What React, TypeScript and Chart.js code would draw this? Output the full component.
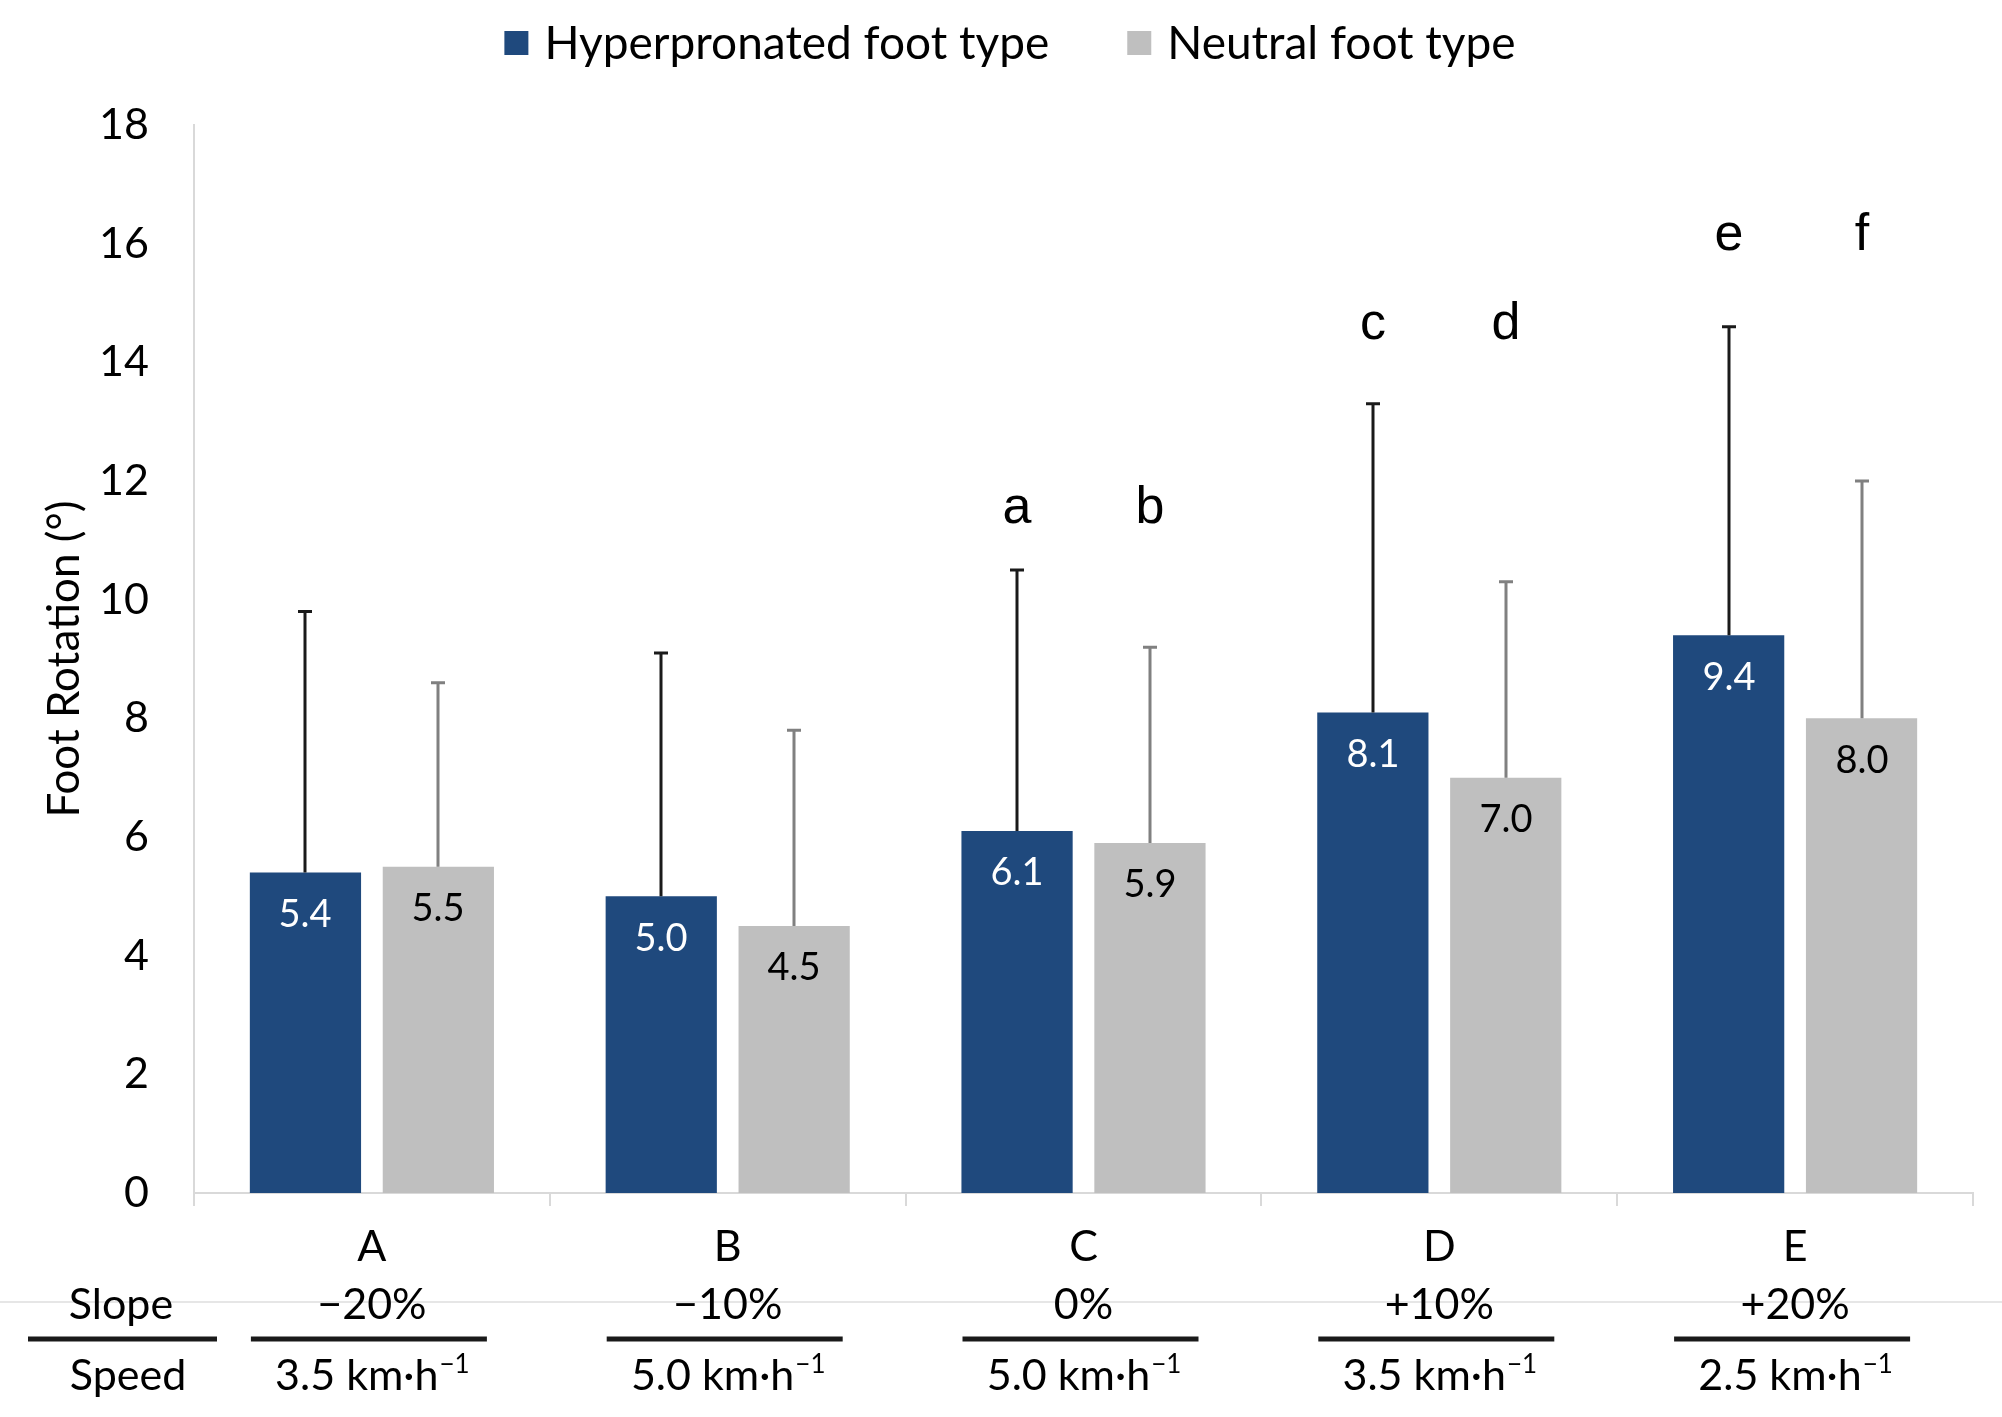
import React, { useEffect, useRef } from "react";
import { Chart, registerables } from "chart.js";

Chart.register(...registerables);

const categories = ["A", "B", "C", "D", "E"];
const slopes = ["−20%", "−10%", "0%", "+10%", "+20%"];
const speeds = ["3.5", "5.0", "5.0", "3.5", "2.5"];
const hyperMeans = [5.4, 5.0, 6.1, 8.1, 9.4];
const hyperSD = [4.4, 4.1, 4.4, 5.2, 5.2];
const neutralMeans = [5.5, 4.5, 5.9, 7.0, 8.0];
const neutralSD = [3.1, 3.3, 3.3, 3.3, 4.0];
const hyperLetters = ["", "", "a", "c", "e"];
const neutralLetters = ["", "", "b", "d", "f"];
const letterLevels = [0, 0, 11.3, 14.4, 15.9];
const seriesNames = ["Hyperpronated foot type", "Neutral foot type"];
const seriesColors = ["#1F497D", "#BFBFBF"];
const errorColors = ["#1a1a1a", "#808080"];
const labelColors = ["#ffffff", "#000000"];

const FONT = "Lato, 'Open Sans', sans-serif";
const W = 2002;
const H = 1417;

const overlay = {
  id: "overlay",
  afterDatasetsDraw(chart: any) {
    const { ctx, scales } = chart;
    const y = scales.y;
    const means = [hyperMeans, neutralMeans];
    const sds = [hyperSD, neutralSD];
    const letters = [hyperLetters, neutralLetters];
    ctx.save();
    for (let d = 0; d < 2; d++) {
      const meta = chart.getDatasetMeta(d);
      meta.data.forEach((bar: any, i: number) => {
        const cx = Math.round(bar.x);
        const base = y.getPixelForValue(means[d][i]);
        const top = y.getPixelForValue(means[d][i] + sds[d][i]);
        ctx.strokeStyle = errorColors[d];
        ctx.lineWidth = 3;
        ctx.beginPath();
        ctx.moveTo(cx, base);
        ctx.lineTo(cx, top);
        ctx.moveTo(cx - 7, top);
        ctx.lineTo(cx + 7, top);
        ctx.stroke();
        // value label
        ctx.fillStyle = labelColors[d];
        ctx.font = `38px ${FONT}`;
        ctx.textAlign = "center";
        ctx.textBaseline = "middle";
        ctx.fillText(means[d][i].toFixed(1), cx, base + 42);
        // significance letters
        if (letters[d][i]) {
          ctx.fillStyle = "#000";
          ctx.font = `52px 'Liberation Sans', Arial, sans-serif`;
          ctx.textBaseline = "alphabetic";
          ctx.fillText(letters[d][i], cx, y.getPixelForValue(letterLevels[i]));
        }
      });
    }
    ctx.restore();
  },
  afterDraw(chart: any) {
    const { ctx, scales } = chart;
    const x = scales.x;
    ctx.save();
    // legend
    ctx.font = `46px ${FONT}`;
    ctx.textBaseline = "middle";
    ctx.textAlign = "left";
    const w1 = ctx.measureText(seriesNames[0]).width;
    const w2 = ctx.measureText(seriesNames[1]).width;
    const box = 24;
    const gapText = 16;
    const gapItems = 78;
    const total = box + gapText + w1 + gapItems + box + gapText + w2;
    let lx = 1010 - total / 2;
    const ly = 43;
    for (let d = 0; d < 2; d++) {
      ctx.fillStyle = seriesColors[d];
      ctx.fillRect(lx, ly - box / 2, box, box);
      ctx.fillStyle = "#000";
      ctx.fillText(seriesNames[d], lx + box + gapText, ly + 1);
      lx += box + gapText + (d === 0 ? w1 : w2) + gapItems;
    }

    // bottom table
    ctx.strokeStyle = "#dedede";
    ctx.lineWidth = 1.5;
    ctx.beginPath();
    ctx.moveTo(0, 1302);
    ctx.lineTo(W, 1302);
    ctx.stroke();

    const mainFont = `43px ${FONT}`;
    const supFont = `26px ${FONT}`;
    const slopeBase = 1319;
    const speedBase = 1390;
    ctx.fillStyle = "#000";
    ctx.textAlign = "center";
    ctx.textBaseline = "alphabetic";
    ctx.font = mainFont;
    ctx.fillText("Slope", 121, slopeBase);
    ctx.fillText("Speed", 128, speedBase);

    ctx.strokeStyle = "#1a1a1a";
    ctx.lineWidth = 5;
    ctx.beginPath();
    ctx.moveTo(28, 1339);
    ctx.lineTo(217, 1339);
    ctx.stroke();

    categories.forEach((_, i) => {
      const cx = x.getPixelForValue(i);
      ctx.font = mainFont;
      ctx.textAlign = "center";
      ctx.fillStyle = "#000";
      ctx.fillText(slopes[i], cx, slopeBase);

      ctx.beginPath();
      ctx.moveTo(cx - 121, 1339);
      ctx.lineTo(cx + 115, 1339);
      ctx.stroke();

      const main = `${speeds[i]} km·h`;
      const sup = "−1";
      ctx.font = mainFont;
      const mw = ctx.measureText(main).width;
      ctx.font = supFont;
      const sw = ctx.measureText(sup).width;
      const start = cx - (mw + sw) / 2;
      ctx.textAlign = "left";
      ctx.font = mainFont;
      ctx.fillText(main, start, speedBase);
      ctx.font = supFont;
      ctx.fillText(sup, start + mw + 1, speedBase - 17);
    });
    ctx.restore();
  },
};

export default function App() {
  const ref = useRef<HTMLCanvasElement>(null);
  useEffect(() => {
    const canvas = ref.current;
    if (!canvas) return;
    const chart = new Chart(canvas, {
      type: "bar",
      data: {
        labels: categories,
        datasets: [
          {
            label: seriesNames[0],
            data: hyperMeans,
            backgroundColor: seriesColors[0],
            categoryPercentage: 0.747,
            barPercentage: 0.837,
          },
          {
            label: seriesNames[1],
            data: neutralMeans,
            backgroundColor: seriesColors[1],
            categoryPercentage: 0.747,
            barPercentage: 0.837,
          },
        ],
      },
      options: {
        responsive: false,
        animation: false,
        devicePixelRatio: 1,
        layout: { padding: { top: 125, left: 0, right: 29, bottom: 144 } },
        plugins: {
          legend: { display: false },
          tooltip: { enabled: false },
        },
        scales: {
          x: {
            offset: true,
            grid: {
              offset: true,
              drawOnChartArea: false,
              drawTicks: true,
              tickLength: 13,
              color: "#d9d9d9",
              lineWidth: 2,
            },
            border: { color: "#d9d9d9", width: 2 },
            ticks: {
              padding: 15,
              color: "#000",
              font: { family: FONT, size: 43 },
            },
            afterFit: (s: any) => {
              s.height = 80;
            },
          },
          y: {
            min: 0,
            max: 18,
            ticks: {
              stepSize: 2,
              padding: 45,
              color: "#000",
              font: { family: FONT, size: 43 },
            },
            grid: { display: false, drawTicks: false },
            border: { color: "#d9d9d9", width: 2 },
            title: {
              display: true,
              text: "Foot Rotation (°)",
              color: "#000",
              font: { family: FONT, size: 44 },
              padding: { top: 38, bottom: 0 },
            },
            afterFit: (s: any) => {
              s.width = 194;
            },
          },
        },
      },
      plugins: [overlay],
    } as any);
    return () => chart.destroy();
  }, []);
  return (
    <div style={{ position: "absolute", left: 0, top: 0, width: W, height: H, background: "#fff" }}>
      <canvas ref={ref} width={W} height={H} style={{ width: W, height: H, display: "block" }} />
    </div>
  );
}
